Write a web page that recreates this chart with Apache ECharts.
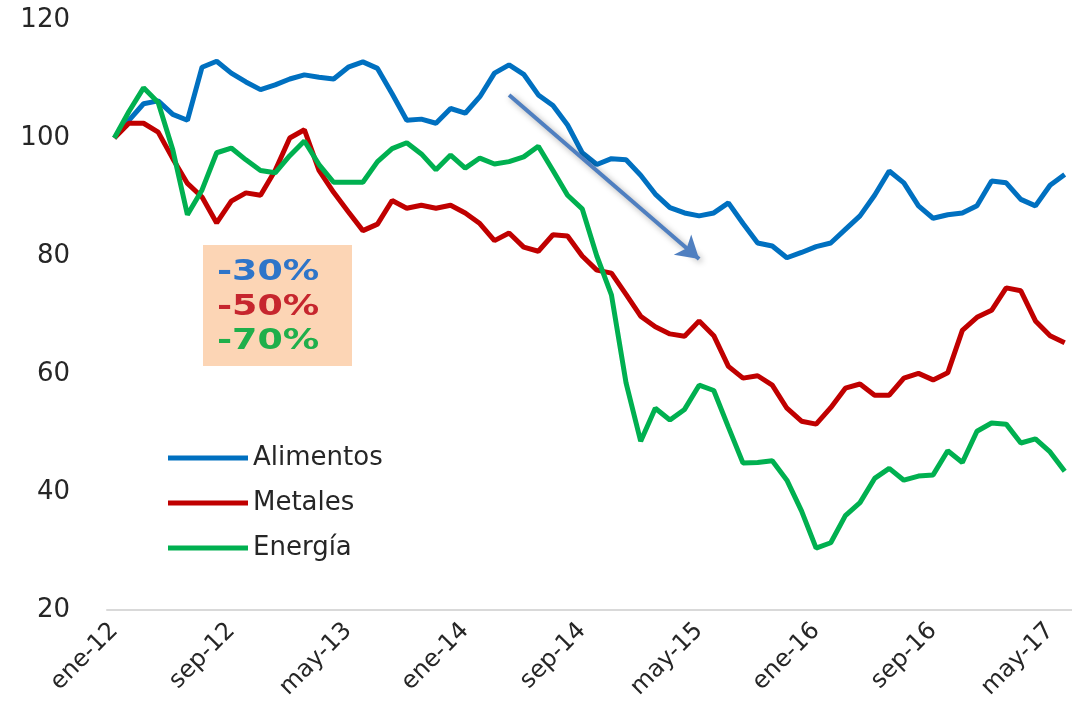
<!DOCTYPE html>
<html>
<head>
<meta charset="utf-8">
<script src="https://cdn.jsdelivr.net/npm/echarts@6/dist/echarts.min.js"></script>
<style>
  html, body { margin: 0; padding: 0; background: #fff; }
  #container1 { width: 1072px; height: 702px; }
</style>
</head>
<body>
<div id="container1"></div>
<script>
// meses ene-12 ... jun-17
var meses = ['ene', 'feb', 'mar', 'abr', 'may', 'jun', 'jul', 'ago', 'sep', 'oct', 'nov', 'dic'];
var categorias = [];
for (var a = 12; a <= 17; a++) {
    for (var m = 0; m < 12; m++) {
        if (a == 17 && m > 5) break;
        categorias.push(meses[m] + '-' + a);
    }
}

var alimentos = [100, 103, 105.8, 106.3, 104, 103, 112, 113, 111, 109.5,
    108.2, 109, 110, 110.7, 110.3, 110, 112, 112.9, 111.8, 107.5,
    103, 103.2, 102.5, 105, 104.2, 107, 111, 112.4, 110.8, 107.3,
    105.5, 102.2, 97.5, 95.5, 96.5, 96.3, 93.7, 90.5, 88.2, 87.3,
    86.8, 87.3, 89, 85.5, 82.2, 81.7, 79.7, 80.6, 81.6, 82.2,
    84.5, 86.8, 90.3, 94.4, 92.4, 88.5, 86.4, 87, 87.3, 88.5,
    92.7, 92.4, 89.6, 88.5, 92, 93.8];

var metales = [100, 102.5, 102.5, 101, 96.5, 92.3, 90, 85.6, 89.3, 90.7,
    90.3, 94.5, 100, 101.4, 94.5, 90.8, 87.5, 84.3, 85.4, 89.4,
    88.1, 88.6, 88.1, 88.6, 87.3, 85.5, 82.6, 83.9, 81.5, 80.8,
    83.6, 83.4, 80, 77.6, 77.1, 73.5, 69.8, 68, 66.8, 66.4,
    69, 66.5, 61.3, 59.3, 59.7, 58.1, 54.2, 52, 51.5, 54.3,
    57.6, 58.3, 56.4, 56.4, 59.3, 60.1, 59, 60.2, 67.4, 69.6,
    70.8, 74.6, 74.1, 69, 66.5, 65.3];

var energia = [100, 104.5, 108.5, 106, 98, 87, 91.2, 97.5, 98.3, 96.3,
    94.5, 94.1, 97, 99.5, 95.5, 92.5, 92.5, 92.5, 96, 98.2,
    99.2, 97.3, 94.6, 97.1, 94.9, 96.6, 95.6, 96, 96.8, 98.6,
    94.5, 90.3, 88, 80, 73.4, 58.5, 48.6, 54.2, 52.2, 54,
    58.1, 57.2, 51, 44.9, 45, 45.3, 42, 36.8, 30.5, 31.4,
    36, 38.2, 42.3, 44, 42, 42.7, 42.9, 47, 45, 50.3,
    51.7, 51.5, 48.3, 49, 46.8, 43.5];

var cambios = ['-30%', '-50%', '-70%'];
// flecha de tendencia: [indice de mes, valor]
var flecha = [[27, 107.3], [40, 79.5]];

var fuente = 'DejaVu Sans';

var myChart = echarts.init(document.getElementById('container1'));
var option = {
    animation: false,
    backgroundColor: '#fff',
    grid: {
        left: 107,
        right: -12,
        top: 20,
        bottom: 90
    },
    legend: {
        orient: 'vertical',
        left: 163,
        top: 438,
        icon: 'rect',
        itemWidth: 80,
        itemHeight: 5,
        itemGap: 15,
        textStyle: {
            fontFamily: fuente,
            fontSize: 26,
            lineHeight: 30,
            color: '#262626'
        },
        data: ['Alimentos', 'Metales', 'Energía']
    },
    xAxis: {
        type: 'category',
        data: categorias,
        boundaryGap: true,
        axisLine: { lineStyle: { color: '#D9D9D9', width: 2 } },
        axisTick: { interval: 7, length: 8, lineStyle: { color: '#D9D9D9', width: 2 } },
        axisLabel: {
            interval: 7,
            rotate: 45,
            margin: 17,
            fontFamily: fuente,
            fontSize: 24,
            color: '#262626'
        }
    },
    yAxis: {
        type: 'value',
        min: 20,
        max: 120,
        interval: 20,
        splitLine: { show: false },
        axisLine: { show: false },
        axisTick: { show: false },
        axisLabel: {
            margin: 37,
            fontFamily: fuente,
            fontSize: 26,
            color: '#262626'
        }
    },
    series: [{
        name: 'Alimentos',
        type: 'line',
        data: alimentos,
        symbol: 'none',
        color: '#0070C0',
        lineStyle: { width: 5 },
        markLine: {
            silent: true,
            symbol: ['none', 'arrow'],
            symbolSize: [20, 22],
            label: { show: false },
            lineStyle: {
                color: '#4F7FC0',
                width: 4,
                type: 'solid',
                shadowBlur: 6,
                shadowColor: 'rgba(0,0,0,0.35)',
                shadowOffsetX: 2,
                shadowOffsetY: 2
            },
            data: [[{ coord: flecha[0] }, { coord: flecha[1] }]]
        }
    },
    {
        name: 'Metales',
        type: 'line',
        data: metales,
        symbol: 'none',
        color: '#C00000',
        lineStyle: { width: 5 }
    },
    {
        name: 'Energía',
        type: 'line',
        data: energia,
        symbol: 'none',
        color: '#00B050',
        lineStyle: { width: 5 }
    }],
    graphic: [{
        type: 'rect',
        x: 203,
        y: 245,
        shape: { width: 149, height: 121 },
        style: { fill: '#FCD5B5' },
        z: 1
    },
    {
        type: 'text',
        x: 217,
        y: 273,
        scaleX: 1.3,
        z: 2,
        style: { text: cambios[0], fill: '#2E75C9', font: 'bold 28px ' + fuente, verticalAlign: 'middle' }
    },
    {
        type: 'text',
        x: 217,
        y: 308,
        scaleX: 1.3,
        z: 2,
        style: { text: cambios[1], fill: '#C6262E', font: 'bold 28px ' + fuente, verticalAlign: 'middle' }
    },
    {
        type: 'text',
        x: 217,
        y: 342,
        scaleX: 1.3,
        z: 2,
        style: { text: cambios[2], fill: '#1FAF4B', font: 'bold 28px ' + fuente, verticalAlign: 'middle' }
    }]
};
myChart.setOption(option);
</script>
</body>
</html>
